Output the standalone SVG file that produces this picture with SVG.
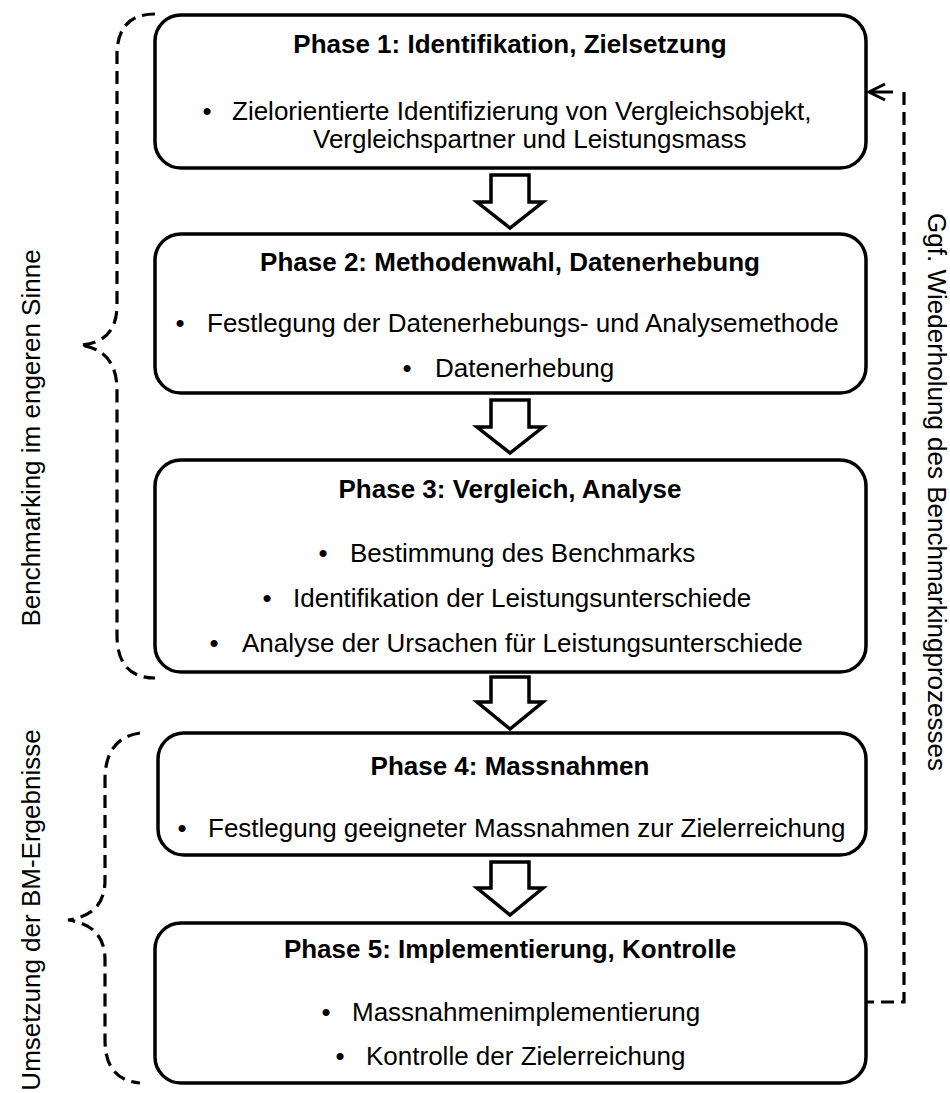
<svg xmlns="http://www.w3.org/2000/svg" width="950" height="1093" viewBox="0 0 950 1093">
<defs>
<style>
.box{fill:#fff;stroke:#000;stroke-width:3.5}
.t{font-family:"Liberation Sans",Arial,sans-serif;font-size:26px;fill:#000}
.b{font-weight:bold}
.m{text-anchor:middle}
.blk{fill:#fff;stroke:#000;stroke-width:3.5;stroke-linejoin:miter}
.dash{fill:none;stroke:#000;stroke-width:3.2;stroke-dasharray:13 7}
</style>
<marker id="open" markerUnits="userSpaceOnUse" markerWidth="24" markerHeight="20" refX="20" refY="10" orient="auto" viewBox="0 0 24 20">
<path d="M4,2 L20,10 L4,18" fill="none" stroke="#000" stroke-width="3"/>
</marker>
</defs>
<rect width="950" height="1093" fill="#fff"/>
<g id="brace1"><path class="dash" d="M155,14 Q117,14 117,55 V305 Q117,343 80,345 Q117,350 117,390 V635 Q117,678 155,678"/></g>
<g id="brace2"><path class="dash" d="M140,733 Q105,738 105,780 V880 Q105,915 68,920 Q105,925 105,960 V1040 Q105,1080 140,1083"/></g>
<g id="label-left1"><text class="t m" transform="translate(40,438) rotate(-90)">Benchmarking im engeren Sinne</text></g>
<g id="label-left2"><text class="t m" transform="translate(40,910) rotate(-90)">Umsetzung der BM-Ergebnisse</text></g>
<g id="label-right"><text class="t m" transform="translate(928,492) rotate(90)">Ggf. Wiederholung des Benchmarkingprozesses</text></g>
<g id="connectors">
<path d="M491,175 H529 V202 H543 L510,228 L477,202 H491 Z" class="blk"/>
<path d="M491,400 H529 V427 H543 L510,453 L477,427 H491 Z" class="blk"/>
<path d="M491,677 H529 V702 H543 L510,729 L477,702 H491 Z" class="blk"/>
<path d="M491,862 H529 V888 H543 L510,915 L477,888 H491 Z" class="blk"/>
<path class="dash" d="M904,92 V1002 H866"/>
<line x1="893" y1="92" x2="869" y2="92" stroke="#000" stroke-width="3" marker-end="url(#open)"/>
</g>
<g id="phase1">
<rect class="box" x="155" y="15" width="711" height="153" rx="26"/>
<text class="t b m" x="510" y="53">Phase 1: Identifikation, Zielsetzung</text>
<text class="t m" x="207" y="120">•</text>
<text class="t" x="232" y="120">Zielorientierte Identifizierung von Vergleichsobjekt,</text>
<text class="t" x="313" y="148">Vergleichspartner und Leistungsmass</text>
</g>
<g id="phase2">
<rect class="box" x="155" y="234" width="711" height="159" rx="26"/>
<text class="t b m" x="510" y="271">Phase 2: Methodenwahl, Datenerhebung</text>
<text class="t m" x="180" y="332">•</text>
<text class="t" x="207" y="332">Festlegung der Datenerhebungs- und Analysemethode</text>
<text class="t m" x="407" y="377">•</text>
<text class="t" x="435" y="377">Datenerhebung</text>
</g>
<g id="phase3">
<rect class="box" x="155" y="460" width="711" height="212" rx="26"/>
<text class="t b m" x="510" y="498">Phase 3: Vergleich, Analyse</text>
<text class="t m" x="323" y="562">•</text>
<text class="t" x="350" y="562">Bestimmung des Benchmarks</text>
<text class="t m" x="267" y="607">•</text>
<text class="t" x="293" y="607">Identifikation der Leistungsunterschiede</text>
<text class="t m" x="214" y="652">•</text>
<text class="t" x="242" y="652">Analyse der Ursachen für Leistungsunterschiede</text>
</g>
<g id="phase4">
<rect class="box" x="158" y="733" width="708" height="122" rx="26"/>
<text class="t b m" x="510" y="775">Phase 4: Massnahmen</text>
<text class="t m" x="182" y="837">•</text>
<text class="t" x="208" y="837">Festlegung geeigneter Massnahmen zur Zielerreichung</text>
</g>
<g id="phase5">
<rect class="box" x="155" y="923" width="711" height="160" rx="26"/>
<text class="t b m" x="510" y="958">Phase 5: Implementierung, Kontrolle</text>
<text class="t m" x="326" y="1021">•</text>
<text class="t" x="352" y="1021">Massnahmenimplementierung</text>
<text class="t m" x="340" y="1065">•</text>
<text class="t" x="366" y="1065">Kontrolle der Zielerreichung</text>
</g>
</svg>
